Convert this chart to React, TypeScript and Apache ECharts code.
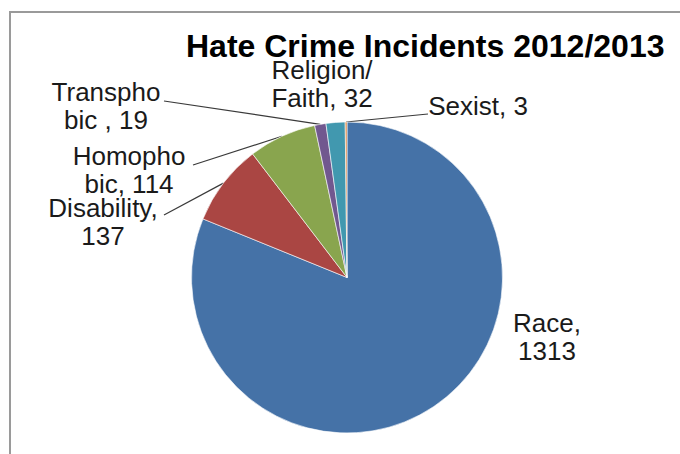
import React, { useEffect, useRef } from "react";
import * as echarts from "echarts";

const titleText = "Hate Crime Incidents 2012/2013";
const categories = ["Race", "Disability", "Homophobic", "Transphobic", "Religion/Faith", "Sexist"];
const values = [1313, 137, 114, 19, 32, 3];
const labelFormats = [
  "Race,\n{c}",
  "Disability,\n{c}",
  "Homopho\nbic, {c}",
  "Transpho\nbic , {c}",
  "Religion/\nFaith, {c}",
  "Sexist, {c}",
];
const colors = ["#4572A7", "#AA4643", "#89A54E", "#71588F", "#4198AF", "#DB843D"];
const showLeader = [false, true, true, true, false, true];

// label placement (anchor = label centre) and leader end points
const labelAnchors: [number, number][] = [
  [547, 337],
  [103, 222],
  [129, 170],
  [106, 106],
  [322, 84],
  [478, 106],
];
const leaderEnds: ([number, number] | null)[] = [
  null,
  [164, 215],
  [193, 165],
  [164, 101],
  null,
  [428, 114],
];

const CX = 347;
const CY = 277.5;
const R = 155.5;

export default function App() {
  const ref = useRef<HTMLDivElement>(null);
  useEffect(() => {
    if (!ref.current) return;
    const chart = echarts.init(ref.current, undefined, { renderer: "svg" });
    const total = values.reduce((a, b) => a + b, 0);
    const midPoint = (i: number): [number, number] => {
      let before = 0;
      for (let k = 0; k < i; k++) before += values[k];
      const frac = (before + values[i] / 2) / total;
      const ang = (90 - frac * 360) * (Math.PI / 180);
      return [CX + R * Math.cos(ang), CY - R * Math.sin(ang)];
    };
    chart.setOption({
      animation: false,
      backgroundColor: "#ffffff",
      title: {
        text: titleText,
        left: 181,
        top: 25,
        textStyle: {
          fontFamily: "Liberation Sans, Arial, sans-serif",
          fontWeight: "bold",
          fontSize: 32,
          color: "#000000",
        },
      },
      graphic: [
        {
          type: "rect",
          shape: { x: 10, y: 12, width: 700, height: 480 },
          style: { fill: "none", stroke: "#9a9a9a", lineWidth: 2 },
          silent: true,
        },
      ],
      series: [
        {
          type: "pie",
          center: [CX, CY],
          radius: R,
          startAngle: 90,
          clockwise: true,
          avoidLabelOverlap: false,
          itemStyle: { borderColor: "#ffffff", borderWidth: 0.6 },
          label: {
            show: true,
            position: "outside",
            fontFamily: "Liberation Sans, Arial, sans-serif",
            fontSize: 26,
            lineHeight: 28,
            color: "#1a1a1a",
            align: "center",
          },
          labelLine: {
            show: true,
            lineStyle: { color: "#3a3a3a", width: 1.2 },
          },
          labelLayout: (params: any) => {
            const i = params.dataIndex;
            const [x, y] = labelAnchors[i];
            const out: any = { x, y, align: "center", verticalAlign: "middle" };
            const end = leaderEnds[i];
            if (end) {
              const start =
                params.labelLinePoints && params.labelLinePoints[0]
                  ? params.labelLinePoints[0]
                  : midPoint(i);
              out.labelLinePoints = [start, end, end];
            }
            return out;
          },
          data: categories.map((name, i) => ({
            name,
            value: values[i],
            itemStyle: { color: colors[i] },
            label: { formatter: labelFormats[i] },
            labelLine: { show: showLeader[i] },
          })),
        },
      ],
    });
    return () => chart.dispose();
  }, []);
  return (
    <div
      ref={ref}
      style={{ position: "absolute", left: 0, top: 0, width: 680, height: 454 }}
    />
  );
}
